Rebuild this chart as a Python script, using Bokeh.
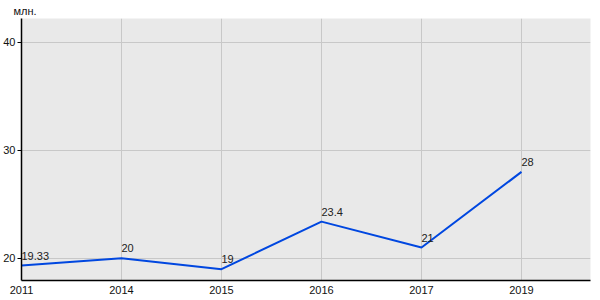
from bokeh.plotting import figure
from bokeh.models import ColumnDataSource, FixedTicker, Range1d, Title
from bokeh.embed import file_html
from bokeh.resources import INLINE
from bokeh.core.properties import value

years = ["2011", "2014", "2015", "2016", "2017", "2019"]
values = [19.33, 20, 19, 23.4, 21, 28]
labels = ["19.33", "20", "19", "23.4", "21", "28"]
y_ticks = [20, 30, 40]

xs = list(range(len(years)))
src = ColumnDataSource(dict(x=xs, y=values, lab=labels))

p = figure(width=600, height=300, output_backend="svg", toolbar_location=None,
           x_range=Range1d(0, 5.69), y_range=Range1d(17.95, 42.2),
           min_border_left=21, min_border_right=10, min_border_top=6, min_border_bottom=20)
p.background_fill_color = "#e9e9e9"
p.border_fill_color = "white"
p.outline_line_color = None

p.line("x", "y", source=src, line_color="#0047e0", line_width=2)
p.text("x", "y", text="lab", source=src, text_align="left", text_baseline="bottom",
       x_offset=0, y_offset=-6, text_font=value("Liberation Sans"),
       text_font_size="11px", text_color="#222222")

p.xaxis.ticker = FixedTicker(ticks=xs)
p.xaxis.major_label_overrides = {i: y for i, y in enumerate(years)}
p.xaxis.major_label_text_align = "left"
p.xaxis.major_tick_out = 0
p.xaxis.major_tick_in = 0
p.xaxis.minor_tick_out = 0
p.xaxis.minor_tick_in = 0
p.xaxis.major_label_standoff = 5

p.yaxis.ticker = FixedTicker(ticks=y_ticks)
p.yaxis.major_tick_out = 4
p.yaxis.major_tick_in = 0
p.yaxis.minor_tick_out = 0
p.yaxis.minor_tick_in = 0
p.yaxis.major_label_standoff = 2
p.yaxis.major_label_text_baseline = "bottom"

for ax in (p.xaxis[0], p.yaxis[0]):
    ax.axis_line_color = "black"
    ax.axis_line_width = 1.5
    ax.major_tick_line_color = "black"
    ax.major_label_text_font = "Liberation Sans"
    ax.major_label_text_font_size = "11px"
    ax.major_label_text_color = "#111111"

p.xgrid.ticker = FixedTicker(ticks=xs)
p.ygrid.ticker = FixedTicker(ticks=y_ticks)
p.grid.grid_line_color = "#c8c8c8"
p.grid.grid_line_width = 1

t = Title(text="млн.", text_font="Liberation Sans", text_font_size="11px",
          text_font_style="normal", text_color="#111111", align="left", offset=-8,
          standoff=4)
p.add_layout(t, "above")

open("out.html", "w").write(file_html(p, INLINE))
